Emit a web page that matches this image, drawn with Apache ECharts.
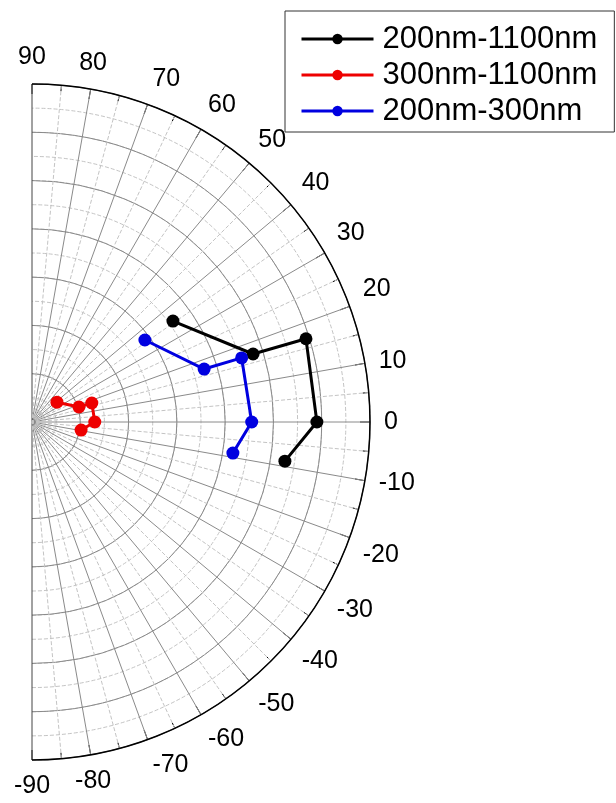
<!DOCTYPE html>
<html>
<head>
<meta charset="utf-8">
<script src="https://cdn.jsdelivr.net/npm/echarts@6/dist/echarts.min.js"></script>
<style>
  html, body { margin: 0; padding: 0; background: #fff; }
  #chart { width: 616px; height: 803px; }
</style>
</head>
<body>
<div id="chart"></div>
<script>
// angle (degrees) and radius, one pair per point
var names = ['200nm-1100nm', '300nm-1100nm', '200nm-300nm'];
var colors = ['#000000', '#ee0000', '#0000e0'];

var blackAngle = [35.6, 17.1, 16.9, 0, -8.8];
var blackRadius = [3.59, 4.79, 5.93, 5.90, 5.30];

var redAngle = [38.5, 17.7, 17.6, 0, -9.3];
var redRadius = [0.66, 1.02, 1.30, 1.30, 1.03];

var blueAngle = [36.0, 17.1, 17.0, 0, -8.8];
var blueRadius = [2.89, 3.73, 4.54, 4.55, 4.21];

function pairs(r, a) {
    var out = [];
    for (var i = 0; i < r.length; i++) {
        out.push([r[i], a[i]]);
    }
    return out;
}

var allData = [pairs(blackRadius, blackAngle), pairs(redRadius, redAngle), pairs(blueRadius, blueAngle)];

// spokes: the two edge ones (-90 and 90) darker than the rest
var spokeColors = [];
for (var k = 0; k < 19; k++) {
    spokeColors.push(k === 0 || k === 18 ? '#444' : '#8a8a8a');
}

var myChart = echarts.init(document.getElementById('chart'));

var series = [];
for (var s = 0; s < names.length; s++) {
    series.push({
        name: names[s],
        type: 'line',
        coordinateSystem: 'polar',
        polarIndex: 0,
        data: allData[s],
        symbol: 'circle',
        symbolSize: 13,
        color: colors[s],
        lineStyle: { width: 3, color: colors[s] },
        itemStyle: { color: colors[s] },
        z: 5
    });
}

var option = {
    animation: false,
    backgroundColor: '#fff',
    textStyle: { fontFamily: 'Liberation Sans, Arial, sans-serif' },
    polar: [
        { center: [32, 422], radius: 338 },
        { center: [32, 422], radius: 338 }
    ],
    angleAxis: [{
        polarIndex: 0,
        type: 'value',
        min: -90,
        max: 90,
        interval: 10,
        startAngle: -90,
        endAngle: 90,
        clockwise: false,
        z: 2,
        axisLine: { show: true, lineStyle: { color: '#000', width: 1.5 } },
        axisTick: { show: true, inside: true, length: 10, lineStyle: { color: '#000', width: 1 } },
        minorTick: { show: true, splitNumber: 2, length: 6, lineStyle: { color: '#000', width: 1 } },
        axisLabel: { show: true, margin: 14, fontSize: 25, color: '#000', fontFamily: 'Liberation Sans' },
        splitLine: { show: true, lineStyle: { color: spokeColors, width: 1 } },
        minorSplitLine: { show: true, lineStyle: { color: '#c4c4c4', width: 1, type: 'dashed' } }
    }, {
        // second polar only carries the dashed half-circles
        polarIndex: 1,
        type: 'value',
        min: -90,
        max: 90,
        interval: 10,
        startAngle: -90,
        endAngle: 90,
        clockwise: false,
        show: false
    }],
    radiusAxis: [{
        polarIndex: 0,
        type: 'value',
        min: 0,
        max: 7,
        interval: 1,
        z: 2,
        axisLine: { show: false },
        axisTick: { show: false },
        axisLabel: { show: false },
        splitLine: { show: true, lineStyle: { color: '#8a8a8a', width: 1 } }
    }, {
        polarIndex: 1,
        type: 'value',
        min: 0,
        max: 7,
        interval: 0.5,
        z: 1,
        axisLine: { show: false },
        axisTick: { show: false },
        axisLabel: { show: false },
        splitLine: { show: true, lineStyle: { color: '#c4c4c4', width: 1, type: 'dashed' } }
    }],
    legend: {
        orient: 'vertical',
        left: 285,
        top: 11,
        data: names,
        itemWidth: 72,
        itemHeight: 13,
        itemGap: 0,
        padding: [10, 17, 3, 15],
        borderColor: '#333',
        borderWidth: 1,
        backgroundColor: '#fff',
        lineStyle: { width: 3 },
        textStyle: { fontSize: 31, lineHeight: 36, color: '#000', padding: [0, 0, 0, 4], fontFamily: 'Liberation Sans' }
    },
    series: series
};

myChart.setOption(option);
</script>
</body>
</html>
